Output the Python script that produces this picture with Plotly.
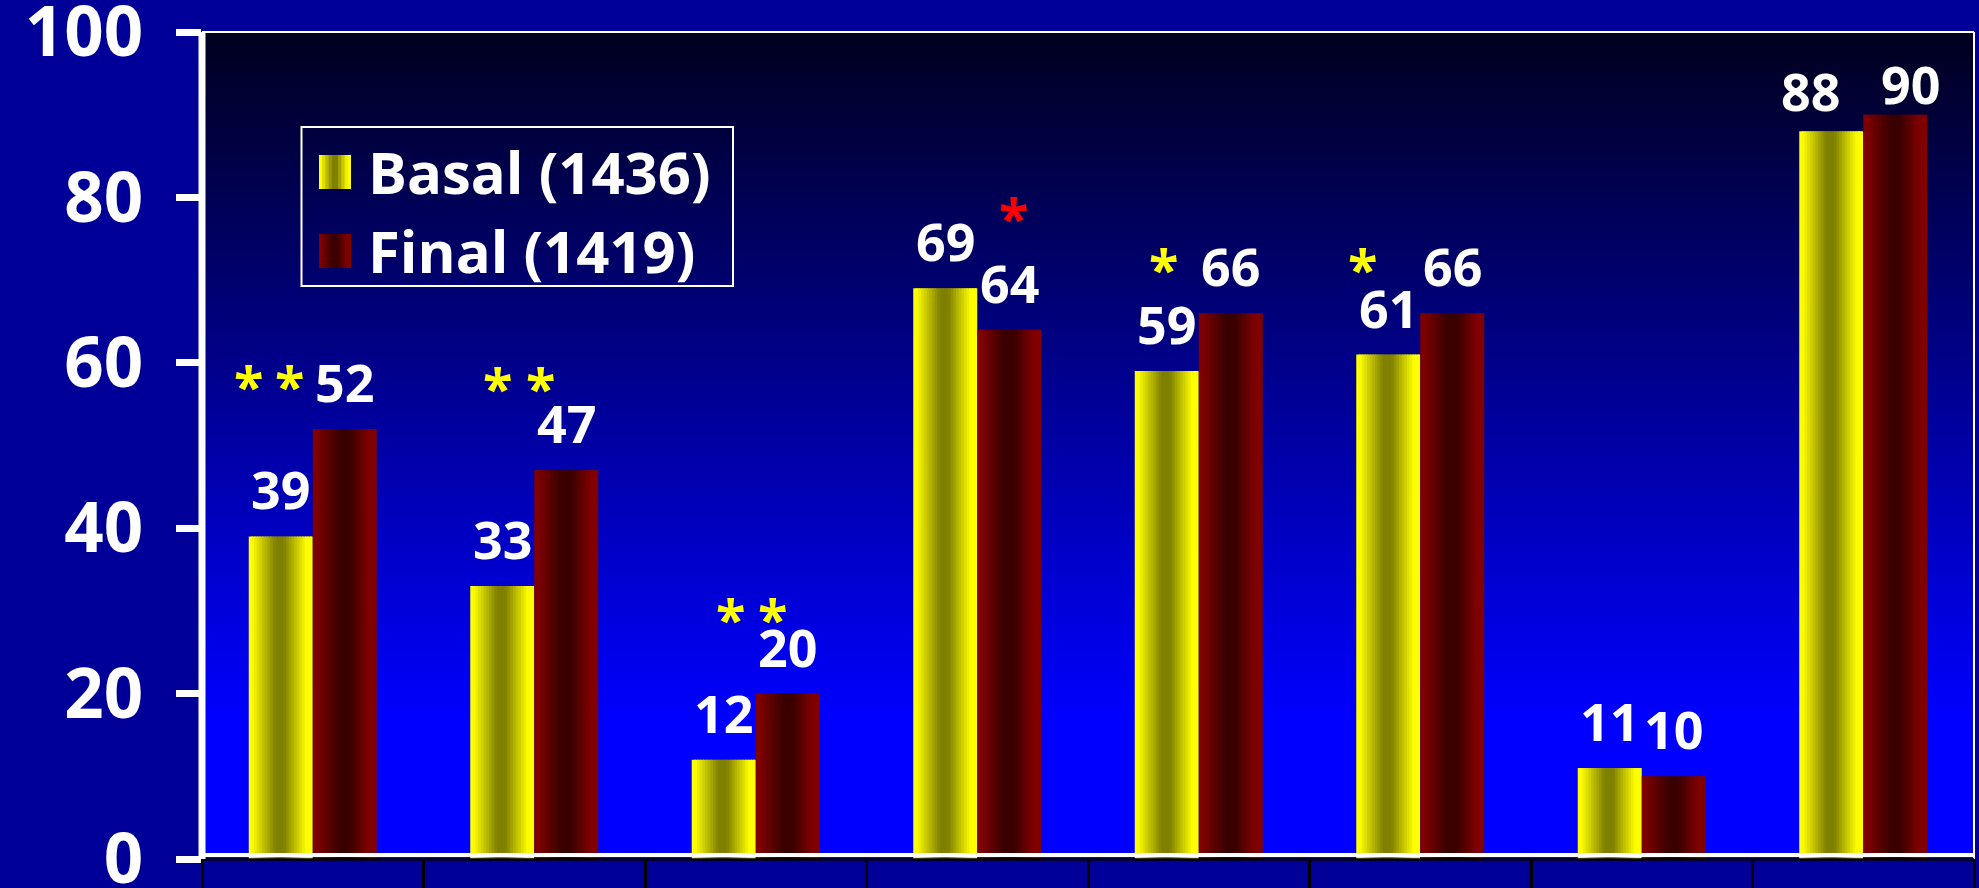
import plotly.graph_objects as go

# ---------------- data ----------------
categories = ["C1", "C2", "C3", "C4", "C5", "C6", "C7", "C8"]
basal = [39, 33, 12, 69, 59, 61, 11, 88]
final = [52, 47, 20, 64, 66, 66, 10, 90]
series_names = ["Basal (1436)", "Final (1419)"]
y_ticks = [0, 20, 40, 60, 80, 100]

# significance asterisks: (category index, marker text, colour key)
sig_marks = [
    (0, "*", "yellow"), (0, "*", "yellow"),
    (1, "*", "yellow"), (1, "*", "yellow"),
    (2, "*", "yellow"), (2, "*", "yellow"),
    (3, "*", "red"),
    (4, "*", "yellow"),
    (5, "*", "yellow"),
]

# ---------------- layout / style (not data) ----------------
W, H = 1979, 888
ML, MR, MT, MB = 202, 5, 32, 29
PW = W - ML - MR
PH = H - MT - MB
CAT_PX = PW / len(categories)
BW = 64 / CAT_PX           # width of one bar in category units
FONT = "Open Sans"
OUTER_BG = "#000099"

# star placement (pixel offset from category centre, y in axis units)
star_pos = [(-64.75, 58.0), (-23.25, 58.0), (-37.25, 57.8), (5.75, 57.8),
            (-25.75, 29.9), (16.25, 29.9), (35.75, 78.3), (-35.25, 72.2),
            (-57.75, 72.2)]
star_colors = {"yellow": "#FFFF00", "red": "#FF0000"}
# small nudges of some value labels (px)
label_nudge = {(7, 0): (-21, -7), (7, 1): (15, -16)}


def pw(t, pts):
    for (t0, v0), (t1, v1) in zip(pts[:-1], pts[1:]):
        if t0 <= t <= t1:
            return v0 + (v1 - v0) * (t - t0) / (t1 - t0) if t1 > t0 else v1
    return pts[-1][1]


def yellow_col(t):
    f = pw(t, [(0, 1), (0.05, 1), (0.42, 0.5), (0.55, 0.5), (0.9, 1), (1, 1)])
    v = int(round(255 * f))
    return f"rgb({v},{v},0)"


def red_col(t):
    f = pw(t, [(0, 1), (0.05, 1), (0.42, 0.45), (0.57, 0.45), (0.88, 1), (1, 1)])
    return f"rgb({int(round(128 * f))},0,0)"


fig = go.Figure()

# gradient bars built from thin bar slices
N = 24
for vals, base_off, colfn in [(basal, -BW, yellow_col), (final, 0.0, red_col)]:
    step = BW / N
    for k in range(N):
        off = base_off + k * step
        w = step * (1.6 if k < N - 1 else 1.0)
        fig.add_trace(go.Bar(
            x=categories, y=vals, offset=off, width=w,
            marker=dict(color=colfn((k + 0.5) / N), line=dict(width=0)),
            showlegend=False, hoverinfo="skip"))

shapes = []

# plot background vertical gradient (overlapping rects, darkest/tallest first)
levels = 230
for k in range(levels + 1):
    top = 1.0 - k * (1.0 - 0.17) / levels
    frac = (top - 0.17) / 0.83
    b = int(round(255 - 225 * frac))
    shapes.append(dict(type="rect", xref="paper", yref="paper", x0=0, x1=1,
                       y0=0, y1=top, fillcolor=f"rgb(0,0,{b})",
                       line=dict(width=0), layer="below"))


def px_x(p):
    return (p - ML) / PW


def px_y(p):
    return (MT + PH - p) / PH


# frame lines
shapes.append(dict(type="line", xref="paper", yref="paper", x0=0, x1=1, y0=1, y1=1,
                   line=dict(color="white", width=2)))
shapes.append(dict(type="line", xref="paper", yref="paper", x0=1, x1=1, y0=0, y1=1,
                   line=dict(color="white", width=2)))
shapes.append(dict(type="line", xref="paper", yref="paper", x0=0, x1=1,
                   y0=px_y(855), y1=px_y(855), line=dict(color="white", width=4)))
shapes.append(dict(type="line", xref="paper", yref="paper", x0=0, x1=1,
                   y0=px_y(859.5), y1=px_y(859.5), line=dict(color="black", width=2.5)))
shapes.append(dict(type="line", xref="paper", yref="paper", x0=px_x(202), x1=px_x(202),
                   y0=0, y1=1, line=dict(color="white", width=7)))

# manual legend
shapes.append(dict(type="rect", xref="paper", yref="paper",
                   x0=px_x(301.5), x1=px_x(733), y0=px_y(286), y1=px_y(127),
                   line=dict(color="white", width=2), fillcolor="rgba(0,0,0,0)"))
annotations = []
for (sy0, sy1, cy), name, colfn in [((155, 189, 171.5), series_names[0], yellow_col),
                                     ((234, 268, 250.5), series_names[1], red_col)]:
    M = 10
    sx0, sx1 = 319, 351
    st = (sx1 - sx0) / M
    for k in range(M):
        x0 = sx0 + k * st
        x1 = x0 + st * (1.5 if k < M - 1 else 1.0)
        shapes.append(dict(type="rect", xref="paper", yref="paper",
                           x0=px_x(x0), x1=px_x(x1), y0=px_y(sy1), y1=px_y(sy0),
                           fillcolor=colfn((k + 0.5) / M), line=dict(width=0)))
    annotations.append(dict(xref="paper", yref="paper", x=px_x(366), y=px_y(cy),
                            text=name, showarrow=False, xanchor="left", yanchor="middle",
                            font=dict(family=FONT, size=58, color="white", weight="bold")))

# value labels
for i, c in enumerate(categories):
    for s, vals in enumerate([basal, final]):
        dx, dy = label_nudge.get((i, s), (0, 0))
        annotations.append(dict(
            x=c, y=vals[i], xref="x", yref="y", text=str(vals[i]), showarrow=False,
            xanchor="center", yanchor="bottom",
            xshift=(-32 if s == 0 else 32) + dx, yshift=10 + dy,
            font=dict(family=FONT, size=52, color="white", weight="bold")))

# significance asterisks
for (ci, txt, ck), (dx, yv) in zip(sig_marks, star_pos):
    annotations.append(dict(
        x=categories[ci], y=yv, xref="x", yref="y", text=txt, showarrow=False,
        xanchor="center", yanchor="middle", xshift=dx, yshift=-6,
        font=dict(family=FONT, size=54, color=star_colors[ck], weight="bold")))

fig.update_layout(
    width=W, height=H,
    margin=dict(l=ML, r=MR, t=MT, b=MB, pad=0, autoexpand=False),
    paper_bgcolor=OUTER_BG, plot_bgcolor="#0000FF",
    barmode="overlay", showlegend=False,
    shapes=shapes, annotations=annotations,
    xaxis=dict(type="category", range=[-0.5, len(categories) - 0.5],
               showline=False, showgrid=False, zeroline=False, automargin=False,
               showticklabels=False, ticks="outside", tickson="boundaries",
               ticklen=30, tickwidth=3, tickcolor="black", fixedrange=True),
    yaxis=dict(range=[0, 100], tickvals=y_ticks, ticks="outside", ticklen=25,
               tickwidth=7, tickcolor="white", showline=False, showgrid=False,
               zeroline=False, ticklabelstandoff=19, automargin=False,
               ticklabeloverflow="allow",
               tickfont=dict(family=FONT, size=69, color="white", weight="bold"),
               fixedrange=True),
)

fig.write_html(
    "out.html",
    config={"displayModeBar": False},
    post_script="document.body.style.margin='0px';document.body.style.overflow='hidden';",
)
